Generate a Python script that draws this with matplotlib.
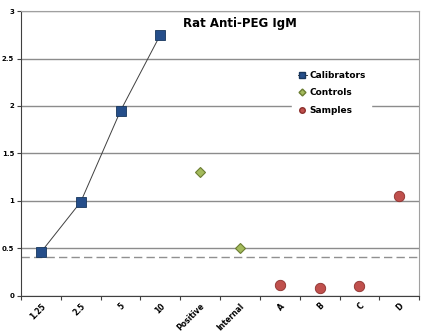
import numpy as np
import matplotlib.pyplot as plt
from matplotlib.lines import Line2D

categories = ['1.25', '2.5', '5', '10', 'Positive', 'Internal', 'A', 'B', 'C', 'D']
calibrator_od = [0.46, 0.99, 1.95, 2.75]
control_od = [1.31, 0.50]
sample_od = [0.11, 0.08, 0.10, 1.05]
cutoff = 0.41

x = np.arange(len(categories))
x_cal = x[:4]
x_ctl = x[4:6]
x_smp = x[6:]

fig = plt.figure(figsize=(4.29, 3.34), dpi=100)
ax = fig.add_axes([0.049, 0.114, 0.928, 0.853])

ax.set_xlim(-0.5, len(categories) - 0.5)
ax.set_ylim(0, 3)
ax.set_yticks(np.arange(0, 3.01, 0.5))
ax.set_yticklabels(['0', '0.5', '1', '1.5', '2', '2.5', '3'], fontsize=5, fontweight='bold')
ax.yaxis.grid(True, color='#8c8c8c', linewidth=1.0)
ax.set_axisbelow(True)

# category ticks sit between the columns, labels at the centres
ax.set_xticks(np.arange(-0.5, len(categories), 1.0))
ax.set_xticklabels([])
ax.set_xticks(x, minor=True)
ax.set_xticklabels(categories, minor=True, rotation=45, fontsize=5.5,
                   fontweight='bold', ha='right', rotation_mode='anchor')
ax.tick_params(axis='x', which='minor', length=0, pad=4)
ax.tick_params(axis='x', which='major', length=3, color='#404040')
ax.tick_params(axis='y', length=3, color='#404040', pad=2)

for side in ['left', 'bottom']:
    ax.spines[side].set_color('#404040')
for side in ['top', 'right']:
    ax.spines[side].set_color('#a0a0a0')

ax.axhline(cutoff, color='#909090', linestyle=(0, (6, 3)), linewidth=1.0)

ax.plot(x_cal, calibrator_od, color='#404040', linewidth=0.7, marker='s',
        markersize=7.5, markerfacecolor='#254e8a', markeredgecolor='#17365d',
        markeredgewidth=0.6, zorder=3)
ax.plot(x_ctl, control_od, linestyle='none', marker='D', markersize=5.5,
        markerfacecolor='#a4bb5c', markeredgecolor='#6b7d32', markeredgewidth=0.8,
        zorder=3)
ax.plot(x_smp, sample_od, linestyle='none', marker='o', markersize=7.5,
        markerfacecolor='#c0504d', markeredgecolor='#8c2f2c', markeredgewidth=0.6,
        zorder=3)

ax.text(0.55, 0.955, 'Rat Anti-PEG IgM', transform=ax.transAxes, fontsize=8.5,
        fontweight='bold', ha='center', va='center')

handles = [
    Line2D([], [], color='#404040', linewidth=0.7, marker='s', markersize=4,
           markerfacecolor='#254e8a', markeredgecolor='#17365d'),
    Line2D([], [], linestyle='none', marker='D', markersize=3.5,
           markerfacecolor='#a4bb5c', markeredgecolor='#6b7d32'),
    Line2D([], [], linestyle='none', marker='o', markersize=4,
           markerfacecolor='#c0504d', markeredgecolor='#8c2f2c'),
]
leg = ax.legend(handles, ['Calibrators', 'Controls', 'Samples'],
                loc='upper left', bbox_to_anchor=(0.67, 0.825), frameon=True,
                handlelength=1.0, handletextpad=0.3,
                labelspacing=0.95, borderpad=0.6, prop={'weight': 'bold', 'size': 6.5})
leg.get_frame().set_edgecolor('white')
leg.get_frame().set_facecolor('white')
leg.get_frame().set_alpha(1.0)

fig.savefig('out.png', dpi=100)
